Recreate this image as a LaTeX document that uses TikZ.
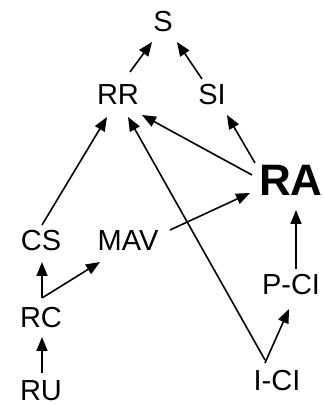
\documentclass[tikz,border=0pt]{standalone}
\usepackage{fontspec}
\setmainfont{Liberation Sans}
\usetikzlibrary{arrows.meta,calc}
\begin{document}
\begin{tikzpicture}[x=1pt,y=1pt,
  lbl/.style={inner sep=0pt,font=\fontsize{29}{29}\selectfont},
  big/.style={inner sep=0pt,font=\fontsize{44}{44}\selectfont\bfseries},
  arr/.style={line width=1.6pt,-{Triangle[length=14pt,width=11pt]}}]
\useasboundingbox (0,0) rectangle (324,405);
% concepts
\node[lbl] (S)   at (163,383) {S};
\node[lbl] (RR)  at (118,310) {RR};
\node[lbl] (SI)  at (212,310) {SI};
\node[big] (RA)  at (291,225) {RA};
\node[lbl] (CS)  at (41,164)  {CS};
\node[lbl] (MAV) at (128,164) {MAV};
\node[lbl] (PCI) at (291,120) {P-CI};
\node[lbl] (RC)  at (41,87)   {RC};
\node[lbl] (RU)  at (41,14.5) {RU};
\node[lbl] (ICI) at (277,24)  {I-CI};
% influences
\draw[arr] ($(RR)+(12,23)$)   -- ($(S)+(-11,-20)$);
\draw[arr] ($(SI)+(-10,16)$)  -- ($(S)+(14,-20)$);
\draw[arr] ($(RA)+(-36,17)$)  -- ($(SI)+(15,-20)$);
\draw[arr] ($(RA)+(-39,5)$)   -- ($(RR)+(24,-20)$);
\draw[arr] ($(ICI)+(-12,21)$) -- ($(RR)+(10,-22)$);
\draw[arr] ($(CS)+(1,16)$)    -- ($(RR)+(-11,-22)$);
\draw[arr] ($(MAV)+(42,11)$)  -- ($(RA)+(-41,-13)$);
\draw[arr] ($(RC)+(1,20)$)    -- ($(CS)+(1,-21)$);
\draw[arr] ($(RC)+(1,20)$)    -- ($(MAV)+(-28,-21)$);
\draw[arr] ($(RU)+(1,17.5)$)  -- ($(RC)+(1,-19)$);
\draw[arr] ($(ICI)+(-12,18)$) -- ($(PCI)+(-2,-24)$);
\draw[arr] ($(PCI)+(5,16)$)   -- ($(RA)+(5,-30)$);
\end{tikzpicture}
\end{document}
